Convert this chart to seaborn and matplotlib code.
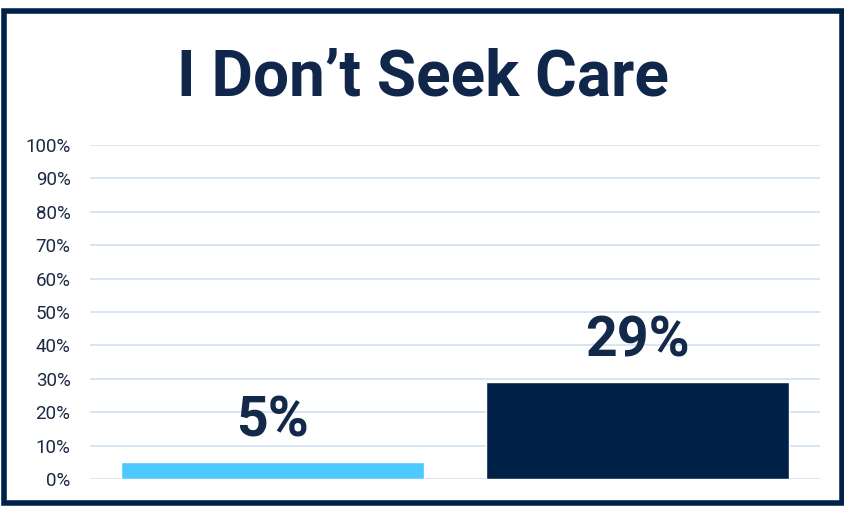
import matplotlib
matplotlib.use("Agg")
import matplotlib.pyplot as plt
from matplotlib.patches import Rectangle
import seaborn as sns
import pandas as pd

categories = ["Group A", "Group B"]
values = [5, 29]
bar_colors = ["#4cc9fe", "#002147"]
tick_values = [0, 10, 20, 30, 40, 50, 60, 70, 80, 90, 100]
tick_labels = [f"{v}%" for v in tick_values]
title = "I Don\u2019t Seek Care"

sns.set_theme(style="white")
plt.rcParams['font.family'] = ['Roboto', 'DejaVu Sans']

W, H = 845, 507
fig = plt.figure(figsize=(W / 100, H / 100), dpi=100)
ax = fig.add_axes([90 / W, (H - 479) / H, (820 - 90) / W, (479 - 145) / H])

df = pd.DataFrame({"cat": categories, "val": values})
sns.barplot(data=df, x="cat", y="val", hue="cat", palette=bar_colors,
            width=0.83, legend=False, ax=ax, zorder=3, saturation=1)

ax.set_xlim(-0.5, 1.5)
ax.set_ylim(0, 100)
ax.set_yticks(tick_values)
ax.set_yticklabels(tick_labels, fontsize=13.5, color="#1b2a44")
ax.set_xticks([])
ax.set_xlabel("")
ax.set_ylabel("")
ax.tick_params(axis="y", length=0, pad=14)
for s in ax.spines.values():
    s.set_visible(False)
ax.yaxis.grid(True, color="#d8e5f5", linewidth=1.4, zorder=0)
ax.set_axisbelow(True)

for i, v in enumerate(values):
    ax.annotate(f"{v}%", (i, v), xytext=(0, 18.5), textcoords="offset points",
                ha="center", va="baseline", fontsize=40, fontweight="bold",
                color="#13294a")

fig.text(0.5, (H - 96) / H, title, ha="center", va="baseline",
         fontsize=46, fontweight="bold", color="#10264a")

fig.patches.append(Rectangle((4 / W, (H - 503) / H), (842 - 4) / W, (503 - 11) / H,
                             transform=fig.transFigure, fill=False,
                             edgecolor="#00214a", linewidth=4))

fig.savefig("out.png", dpi=100)
